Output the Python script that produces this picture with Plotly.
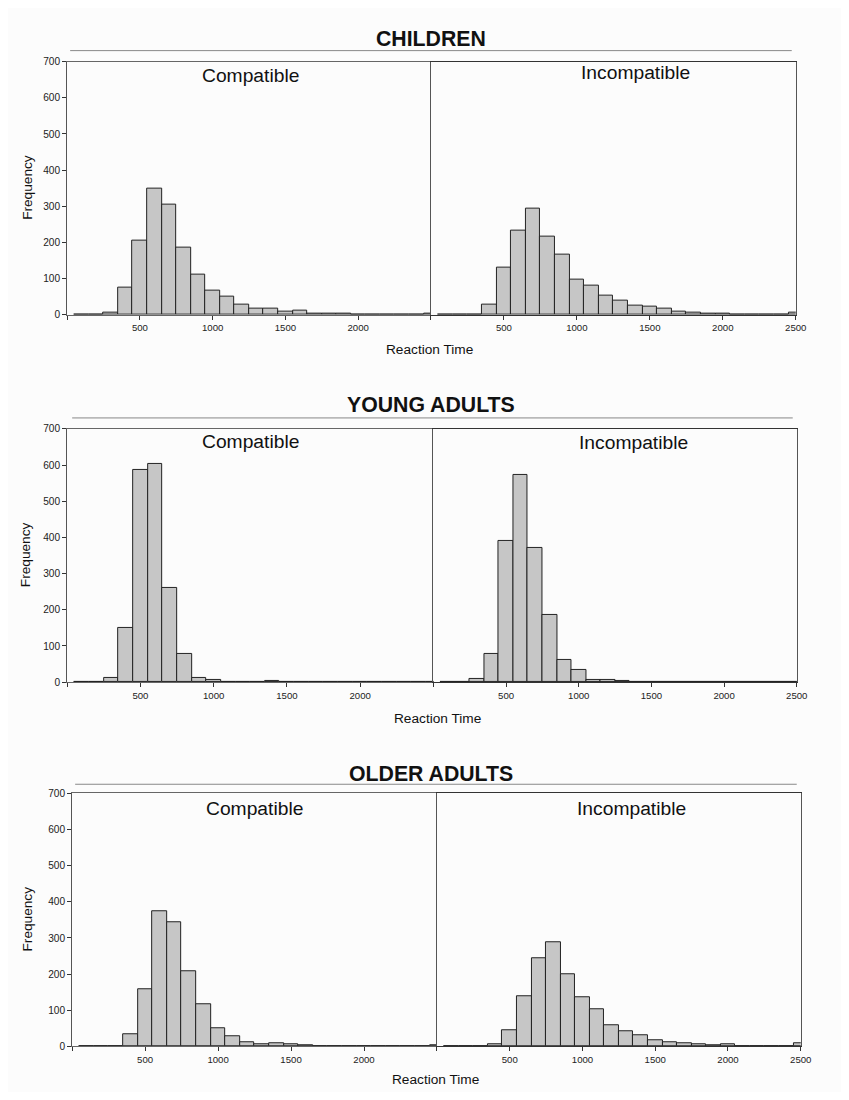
import plotly.graph_objects as go

# ---------------- data ----------------
bin_centers = [100, 200, 300, 400, 500, 600, 700, 800, 900, 1000, 1100, 1200, 1300,
               1400, 1500, 1600, 1700, 1800, 1900, 2000, 2100, 2200, 2300, 2400, 2500]

children_compatible = [0, 0, 5, 74, 206, 349, 306, 187, 112, 68, 49, 27, 18,
                       16, 8, 13, 4, 2, 2, 0, 0, 0, 0, 0, 3]
children_incompatible = [1, 1, 1, 29, 131, 232, 293, 217, 167, 97, 82, 52, 38,
                         25, 22, 18, 10, 5, 4, 4, 1, 1, 1, 1, 5]
young_compatible = [0, 0, 13, 151, 586, 603, 261, 79, 13, 7, 0, 0, 0,
                    4, 0, 0, 0, 0, 0, 0, 0, 0, 0, 0, 0]
young_incompatible = [0, 0, 8, 78, 391, 573, 371, 185, 62, 34, 6, 6, 3,
                      0, 0, 0, 0, 0, 0, 0, 0, 0, 0, 0, 0]
older_compatible = [0, 0, 0, 35, 159, 374, 344, 209, 117, 50, 29, 12, 6,
                    9, 6, 3, 0, 0, 0, 0, 0, 0, 0, 0, 3]
older_incompatible = [0, 0, 0, 6, 45, 140, 245, 288, 199, 136, 102, 59, 42,
                      30, 18, 11, 9, 6, 3, 6, 0, 0, 0, 0, 8]

group_titles = ["CHILDREN", "YOUNG ADULTS", "OLDER ADULTS"]
panel_titles = ["Compatible", "Incompatible"]
y_ticks = [0, 100, 200, 300, 400, 500, 600, 700]
x_ticks = [0, 500, 1000, 1500, 2000, 2500]
x_ticktext_left = ["", "500", "1000", "1500", "2000", ""]
x_ticktext_right = ["", "500", "1000", "1500", "2000", "2500"]

series = [
    (children_compatible, children_incompatible),
    (young_compatible, young_incompatible),
    (older_compatible, older_incompatible),
]

# ---------------- layout geometry (screen pixels) ----------------
PAGE_MARGIN = 8          # default body margin of the html page
W, H = 849 - 2 * PAGE_MARGIN, 1100 - 2 * PAGE_MARGIN
# observed screen mapping of the captured page (linear), compensated here
AX, BX = 1.0, 0.986
AY, BY = 5.5, 0.989
FS = 1.0 / 0.987         # font compensation

rows = [
    dict(top=62, bottom=315, x0=68, xm=431.5, x1=796, title_y=39, line_y=51, line_x=(71, 792),
         sub_y=(76, 73), sub_x=(251, 636), xt=(430, 350), yt=(29, 188)),
    dict(top=429, bottom=682, x0=68, xm=434, x1=797, title_y=405.5, line_y=418, line_x=(73, 793),
         sub_y=(442, 443), sub_x=(251, 634), xt=(438, 718), yt=(26, 555)),
    dict(top=793, bottom=1046, x0=73, xm=437.5, x1=801, title_y=774, line_y=784, line_x=(76, 797),
         sub_y=(808, 808), sub_x=(255, 632), xt=(436, 1079), yt=(28, 919)),
]

def px(x):
    x = (x - AX) / BX
    return (x - PAGE_MARGIN) / W

def py(y):
    y = (y - AY) / BY
    return 1 - (y - PAGE_MARGIN) / H

FONT = "Arial, Liberation Sans, sans-serif"
fig = go.Figure()
annotations = []
shapes = []

for r, (row, (comp, incomp)) in enumerate(zip(rows, series)):
    for c, vals in enumerate((comp, incomp)):
        idx = r * 2 + c + 1
        xa = "x" if idx == 1 else f"x{idx}"
        ya = "y" if idx == 1 else f"y{idx}"
        fig.add_trace(go.Bar(
            x=bin_centers, y=vals, width=100,
            marker=dict(color="#c6c6c6", line=dict(color="#222222", width=1)),
            xaxis=xa, yaxis=ya, showlegend=False, hoverinfo="x+y",
        ))
        xdom = [px(row["x0"]), px(row["xm"])] if c == 0 else [px(row["xm"]), px(row["x1"])]
        ydom = [py(row["bottom"]), py(row["top"])]
        xkey = "xaxis" if idx == 1 else f"xaxis{idx}"
        ykey = "yaxis" if idx == 1 else f"yaxis{idx}"
        fig.layout[xkey] = dict(
            domain=xdom, range=[0, 2500], anchor=ya,
            tickmode="array", tickvals=x_ticks,
            ticktext=x_ticktext_left if c == 0 else x_ticktext_right,
            ticks="outside", ticklen=4, tickcolor="#333", tickwidth=1,
            showline=True, linecolor="#666" if c == 0 else "#333", linewidth=1, mirror=True,
            showgrid=False, zeroline=False,
            tickfont=dict(family=FONT, size=9.5 * FS, color="#222"),
            fixedrange=True,
        )
        ycfg = dict(
            domain=ydom, range=[0, 700], anchor=xa,
            tickmode="array", tickvals=y_ticks,
            showgrid=False, zeroline=False,
            showline=True, linecolor="#555", linewidth=1,
            tickfont=dict(family=FONT, size=10 * FS, color="#222"),
            fixedrange=True,
        )
        if c == 0:
            ycfg.update(ticks="outside", ticklen=4, tickcolor="#333", showticklabels=True, mirror=False)
        else:
            ycfg.update(ticks="", showticklabels=False, mirror=True)
        fig.layout[ykey] = ycfg

        # panel subtitle
        annotations.append(dict(
            x=px(row["sub_x"][c]), y=py(row["sub_y"][c]), xref="paper", yref="paper",
            text=panel_titles[c], showarrow=False, xanchor="center", yanchor="middle",
            font=dict(family=FONT, size=19 * FS, color="#111"),
        ))

    # group title
    annotations.append(dict(
        x=px(432), y=py(row["title_y"]), xref="paper", yref="paper",
        text=f"<b>{group_titles[r]}</b>", showarrow=False, xanchor="center", yanchor="middle",
        font=dict(family=FONT, size=21 * FS, color="#111"),
    ))
    # axis titles
    annotations.append(dict(
        x=px(row["xt"][0]), y=py(row["xt"][1]), xref="paper", yref="paper",
        text="Reaction Time", showarrow=False, xanchor="center", yanchor="middle",
        font=dict(family=FONT, size=13.5 * FS, color="#111"),
    ))
    annotations.append(dict(
        x=px(row["yt"][0]), y=py(row["yt"][1]), xref="paper", yref="paper",
        text="Frequency", showarrow=False, xanchor="center", yanchor="middle", textangle=-90,
        font=dict(family=FONT, size=13.5 * FS, color="#111"),
    ))
    # title underline
    shapes.append(dict(
        type="line", xref="paper", yref="paper",
        x0=px(row["line_x"][0]), x1=px(row["line_x"][1]),
        y0=py(row["line_y"]), y1=py(row["line_y"]),
        line=dict(color="#888", width=1),
    ))

fig.update_layout(
    width=W, height=H,
    margin=dict(l=0, r=0, t=0, b=0),
    paper_bgcolor="#fcfcfc", plot_bgcolor="#fcfcfc",
    annotations=annotations, shapes=shapes,
    bargap=0, showlegend=False,
    font=dict(family=FONT),
)

fig.write_html("out.html")
